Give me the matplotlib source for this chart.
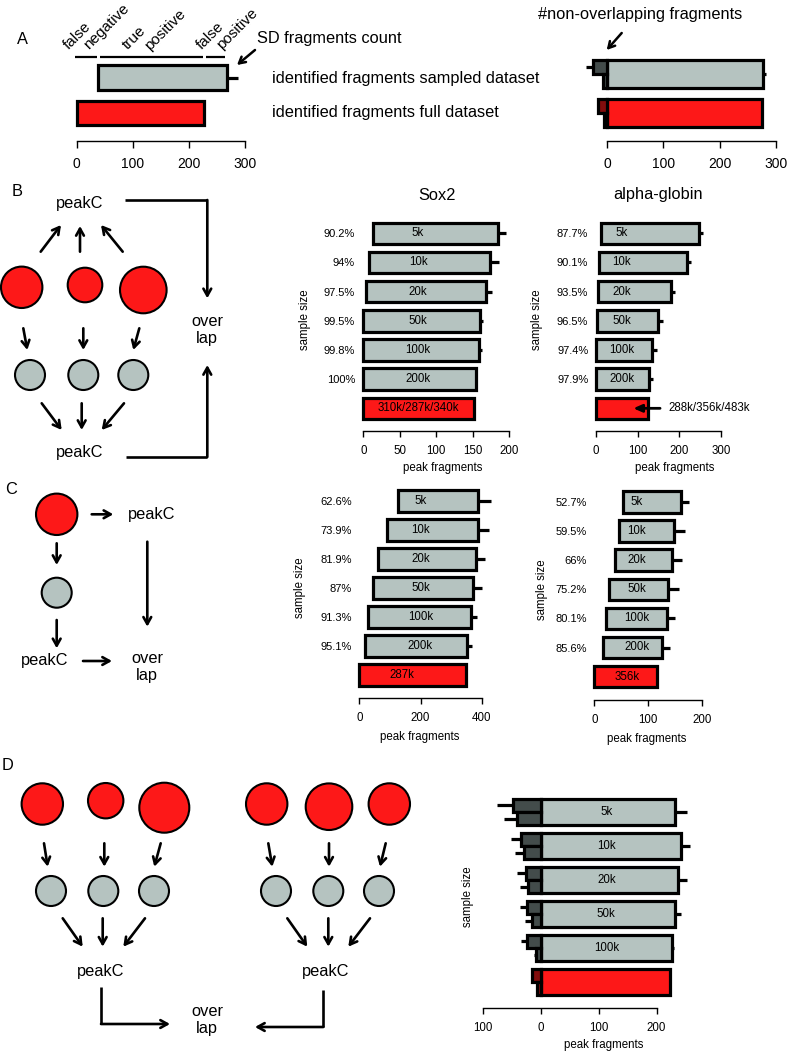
import matplotlib
matplotlib.use('Agg')
import matplotlib.pyplot as plt
import matplotlib.patches as mpatches

plt.rcParams['font.family'] = ['Liberation Sans', 'DejaVu Sans']

# ---------------- data ----------------
A_rows = ['identified fragments sampled dataset', 'identified fragments full dataset']
A_left_start = [38.5, 0]
A_left_end = [267, 227.5]
A_left_sd = [288, None]
A_segments = [0, 38.5, 227.5, 267]
A_segment_labels = [('false', 'negative'), ('true', 'positive'), ('false', 'positive')]

A_right_overlap = [277, 275]
A_right_overlap_sd = [282, None]
A_right_upper = [25, 16]
A_right_upper_sd = [38, None]
A_right_lower = [7, 6]
A_right_lower_sd = [9, None]

sizes = ['5k', '10k', '20k', '50k', '100k', '200k']

B_sox2_pct = ['90.2%', '94%', '97.5%', '99.5%', '99.8%', '100%']
B_sox2_start = [13.7, 8.2, 3.2, 0, 0, 0]
B_sox2_end = [185, 174, 168, 160.5, 159, 155]
B_sox2_sd = [196, 186, 176, 164, 162, 156]
B_sox2_full = 152
B_sox2_full_label = '310k/287k/340k'

B_alpha_pct = ['87.7%', '90.1%', '93.5%', '96.5%', '97.4%', '97.9%']
B_alpha_start = [12.7, 8.8, 4.8, 2.4, 0.7, 0]
B_alpha_end = [247, 218, 180, 150, 135.5, 128]
B_alpha_sd = [256, 227, 190, 162, 146, 136]
B_alpha_full = 126
B_alpha_full_label = '288k/356k/483k'

C_sox2_pct = ['62.6%', '73.9%', '81.9%', '87%', '91.3%', '95.1%']
C_sox2_start = [127.6, 89.5, 62, 46, 29, 18.5]
C_sox2_end = [387, 387, 381, 373, 364.6, 353]
C_sox2_sd = [432, 424, 411, 400, 386, 367]
C_sox2_full = 349
C_sox2_full_label = '287k'

C_alpha_pct = ['52.7%', '59.5%', '66%', '75.2%', '80.1%', '85.6%']
C_alpha_start = [52.5, 45.8, 38.4, 28, 21.6, 16.8]
C_alpha_end = [160, 148, 143, 137, 134, 125]
C_alpha_sd = [176, 168, 162, 157, 150, 140]
C_alpha_full = 116
C_alpha_full_label = '356k'

D_sizes = ['5k', '10k', '20k', '50k', '100k']
D_overlap = [232, 243, 237, 232, 226]
D_overlap_sd = [252, 258, 252, 242, 230]
D_upper = [49, 34.6, 26.5, 25, 23.6]
D_upper_sd = [75.6, 52, 41, 36, 35]
D_lower = [41, 29, 22, 16, 8.6]
D_lower_sd = [64, 45, 36, 28, 12]
D_full_overlap = 223
D_full_upper = 16
D_full_lower = 7.5

# ---------------- style ----------------
RED = '#fd1818'
GREY = '#b5c3c0'
DARK = '#434c4b'
DARKRED = '#820d0d'
EDGE_LW = 2.3
FS_BIG = 11.8
FS_ROT = 11.0
FS_DIAG = 11.8
FS_SMALL = 8.3
FS_PCT = 8.0
FS_TICK_A = 10

W, H = 787, 1051
fig = plt.figure(figsize=(W / 100, H / 100), dpi=100)

# overlay axes in pixel coordinates for the schematic diagrams and annotations
ov = fig.add_axes([0, 0, 1, 1])
ov.set_xlim(0, W)
ov.set_ylim(H, 0)
ov.axis('off')
ov.set_facecolor('none')


def make_axes(zero_px, scale, xlim, row0_py, spacing, axis_py, ticks, top_rows=0.7,
              tick_fs=FS_SMALL, tick_len=6, label_pad_px=8.0, tick_labels=None):
    x0 = zero_px + xlim[0] * scale
    x1 = zero_px + xlim[1] * scale
    y_top = row0_py - top_rows * spacing
    ax = fig.add_axes([x0 / W, 1 - axis_py / H, (x1 - x0) / W, (axis_py - y_top) / H])
    ax.set_facecolor('none')
    ax.set_xlim(*xlim)
    ax.set_ylim((axis_py - row0_py) / spacing, -top_rows)
    for s in ['top', 'right', 'left']:
        ax.spines[s].set_visible(False)
    ax.spines['bottom'].set_linewidth(1.0)
    ax.spines['bottom'].set_bounds(ticks[0], ticks[-1])
    ax.set_xticks(ticks)
    if tick_labels is None:
        tick_labels = [str(t) for t in ticks]
    ax.set_xticklabels(tick_labels)
    ax.tick_params(axis='x', direction='out', length=tick_len * 0.72, width=1.0,
                   labelsize=tick_fs, pad=label_pad_px * 0.72)
    ax.tick_params(axis='y', length=0)
    ax.set_yticks([])
    ax._px = (x0, x1, y_top, axis_py)
    return ax


def frac(ax, px, py):
    x0, x1, y0, y1 = ax._px
    return (px - x0) / (x1 - x0), (y1 - py) / (y1 - y0)


def sd_line(ax, x0, x1, y):
    ax.plot([x0, x1], [y, y], color='black', lw=EDGE_LW, solid_capstyle='butt', zorder=1)


def xlabel(ax, text, px, py):
    ax.set_xlabel(text, fontsize=FS_SMALL)
    fx, fy = frac(ax, px, py)
    ax.xaxis.set_label_coords(fx, fy)
    ax.xaxis.label.set_va('center')


def ylabel(ax, text, px, py):
    ax.set_ylabel(text, fontsize=FS_SMALL)
    fx, fy = frac(ax, px, py)
    ax.yaxis.set_label_coords(fx, fy)
    ax.yaxis.label.set_ha('center')
    ax.yaxis.label.set_va('center')


def sample_panel(ax, starts, ends, sds, full, pct, label_x, full_label, pct_right,
                 height=0.74):
    n = len(starts)
    ys = list(range(n))
    ax.barh(ys, [e - s for s, e in zip(starts, ends)], left=starts, height=height,
            color=GREY, edgecolor='black', linewidth=EDGE_LW, zorder=2)
    for y, e, sd in zip(ys, ends, sds):
        sd_line(ax, e, sd, y)
    ax.barh([n], [full], left=[0], height=height, color=RED, edgecolor='black',
            linewidth=EDGE_LW, zorder=2)
    for y, s in zip(ys, sizes):
        ax.text(label_x, y, s, ha='center', va='center', fontsize=FS_SMALL, zorder=3)
    if full_label is not None:
        ax.text(label_x, n, full_label, ha='center', va='center', fontsize=FS_SMALL, zorder=3)
    ax.set_yticks(ys)
    ax.set_yticklabels(pct, fontsize=FS_PCT)
    ax.tick_params(axis='y', length=0, pad=(ax._px[0] - pct_right) * 0.72)


def split_panel(ax, overlap, overlap_sd, upper, upper_sd, lower, lower_sd,
                main_color, dark_color, height):
    ys = list(range(len(overlap)))
    ax.barh(ys, overlap, left=0, height=height, color=main_color, edgecolor='black',
            linewidth=EDGE_LW, zorder=2)
    ax.barh([y - height / 4 for y in ys], [-u for u in upper], left=0, height=height / 2,
            color=dark_color, edgecolor='black', linewidth=EDGE_LW, zorder=2)
    ax.barh([y + height / 4 for y in ys], [-l for l in lower], left=0, height=height / 2,
            color=dark_color, edgecolor='black', linewidth=EDGE_LW, zorder=2)
    for y, o, osd, u, usd, l, lsd in zip(ys, overlap, overlap_sd, upper, upper_sd, lower, lower_sd):
        if osd is not None:
            sd_line(ax, o, osd, y)
        if usd is not None:
            sd_line(ax, -u, -usd, y - height / 4)
        if lsd is not None:
            sd_line(ax, -l, -lsd, y + height / 4)


# ---------------- Panel A left ----------------
axA = make_axes(76.7, 0.5613, (-8, 310), 77.5, 35.5, 140.5, [0, 100, 200, 300],
                top_rows=1.0, tick_fs=FS_TICK_A, tick_len=7, label_pad_px=9.5)
hA = 0.68
axA.barh([0], [A_left_end[0] - A_left_start[0]], left=[A_left_start[0]], height=hA,
         color=GREY, edgecolor='black', linewidth=EDGE_LW, zorder=2)
sd_line(axA, A_left_end[0], A_left_sd[0], 0)
axA.barh([1], [A_left_end[1] - A_left_start[1]], left=[A_left_start[1]], height=hA,
         color=RED, edgecolor='black', linewidth=EDGE_LW, zorder=2)
seg_y = -0.59
for i in range(3):
    a, b = A_segments[i], A_segments[i + 1]
    axA.plot([a + (2.5 if i else -3), b - 3], [seg_y, seg_y], color='black', lw=1.6,
             solid_capstyle='butt', clip_on=False)

# rotated labels above the dashes (figure pixel positions of baseline starts)
rot_pos = [(68.5, 49.5), (89, 50), (128, 49.5), (150, 51), (202, 49.5), (222, 50)]
words = [w for pair in A_segment_labels for w in pair]
for txt, (px, py) in zip(words, rot_pos):
    ov.text(px, py, txt, rotation=45, rotation_mode='anchor', ha='left', va='baseline',
            fontsize=FS_ROT)
ov.text(256.7, 38, 'SD fragments count', ha='left', va='center', fontsize=FS_BIG)
ov.annotate('', xy=(237, 65), xytext=(255, 50),
            arrowprops=dict(arrowstyle='->,head_length=0.45,head_width=0.25', lw=1.8,
                            color='black', shrinkA=0, shrinkB=0))
ov.text(271.7, 78, A_rows[0], ha='left', va='center', fontsize=FS_BIG)
ov.text(271.7, 113, A_rows[1], ha='left', va='center', fontsize=FS_BIG)
ov.text(17, 40, 'A', ha='left', va='center', fontsize=FS_BIG)

# ---------------- Panel A right ----------------
axAR = make_axes(607.3, 0.5613, (-45, 300), 73.8, 39, 140.5, [0, 100, 200, 300],
                 top_rows=0.6, tick_fs=FS_TICK_A, tick_len=7, label_pad_px=9.5)
hAR = 0.72
split_panel(axAR, [A_right_overlap[0]], [A_right_overlap_sd[0]], [A_right_upper[0]],
            [A_right_upper_sd[0]], [A_right_lower[0]], [A_right_lower_sd[0]], GREY, DARK, hAR)
axAR.barh([1], [A_right_overlap[1]], left=0, height=hAR, color=RED, edgecolor='black',
          linewidth=EDGE_LW, zorder=2)
axAR.barh([1 - hAR / 4], [-A_right_upper[1]], left=0, height=hAR / 2, color=DARKRED,
          edgecolor='black', linewidth=EDGE_LW, zorder=2)
axAR.barh([1 + hAR / 4], [-A_right_lower[1]], left=0, height=hAR / 2, color=DARKRED,
          edgecolor='black', linewidth=EDGE_LW, zorder=2)
ov.text(538, 15, '#non-overlapping fragments', ha='left', va='center', fontsize=FS_BIG)
ov.annotate('', xy=(606.7, 50), xytext=(621.7, 33),
            arrowprops=dict(arrowstyle='->,head_length=0.45,head_width=0.25', lw=1.8,
                            color='black', shrinkA=0, shrinkB=0))

# ---------------- Panel B ----------------
axBS = make_axes(363.3, 0.73, (-3, 205), 233.3, 29.17, 430.7, [0, 50, 100, 150, 200])
sample_panel(axBS, B_sox2_start, B_sox2_end, B_sox2_sd, B_sox2_full, B_sox2_pct, 75,
             B_sox2_full_label, 355)
axBS.set_title('Sox2', fontsize=FS_BIG, y=frac(axBS, 0, 204)[1], va='center')
xlabel(axBS, 'peak fragments', 443, 467.5)
ylabel(axBS, 'sample size', 305, 320)

axBA = make_axes(595.7, 0.418, (-3, 300), 233.3, 29.17, 430.7, [0, 100, 200, 300])
sample_panel(axBA, B_alpha_start, B_alpha_end, B_alpha_sd, B_alpha_full, B_alpha_pct, 62,
             None, 588.3)
axBA.annotate('', xy=(90, 6), xytext=(154, 6),
              arrowprops=dict(arrowstyle='-|>,head_length=0.5,head_width=0.22', lw=2.0,
                              color='black', shrinkA=0, shrinkB=0), annotation_clip=False)
axBA.text(174, 6, B_alpha_full_label, ha='left', va='center', fontsize=FS_SMALL, clip_on=False)
axBA.set_title('alpha-globin', fontsize=FS_BIG, y=frac(axBA, 0, 203)[1], va='center')
xlabel(axBA, 'peak fragments', 675, 467.5)
ylabel(axBA, 'sample size', 536.7, 320)

# ---------------- Panel C ----------------
axCS = make_axes(359.3, 0.306, (-8, 440), 501, 29, 698.3, [0, 200, 400])
sample_panel(axCS, C_sox2_start, C_sox2_end, C_sox2_sd, C_sox2_full, C_sox2_pct, 200,
             None, 351.7)
axCS.text(140, 6, C_sox2_full_label, ha='center', va='center', fontsize=FS_SMALL, zorder=3)
xlabel(axCS, 'peak fragments', 420, 737)
ylabel(axCS, 'sample size', 300, 588)

axCA = make_axes(594.3, 0.54, (-5, 200), 502, 29.1, 700, [0, 100, 200])
sample_panel(axCA, C_alpha_start, C_alpha_end, C_alpha_sd, C_alpha_full, C_alpha_pct, 79,
             None, 586.7)
axCA.text(60, 6, C_alpha_full_label, ha='center', va='center', fontsize=FS_SMALL, zorder=3)
xlabel(axCA, 'peak fragments', 646.7, 739)
ylabel(axCA, 'sample size', 541.7, 590)

# ---------------- Panel D ----------------
axD = make_axes(541, 0.578, (-100, 262), 812, 34, 1008.3, [-100, 0, 100, 200],
                tick_labels=['100', '0', '100', '200'])
hD = 0.78
split_panel(axD, D_overlap, D_overlap_sd, D_upper, D_upper_sd, D_lower, D_lower_sd,
            GREY, DARK, hD)
nD = len(D_overlap)
axD.barh([nD], [D_full_overlap], left=0, height=hD, color=RED, edgecolor='black',
         linewidth=EDGE_LW, zorder=2)
axD.barh([nD - hD / 4], [-D_full_upper], left=0, height=hD / 2, color=DARKRED,
         edgecolor='black', linewidth=EDGE_LW, zorder=2)
axD.barh([nD + hD / 4], [-D_full_lower], left=0, height=hD / 2, color=DARKRED,
         edgecolor='black', linewidth=EDGE_LW, zorder=2)
for y, s in enumerate(D_sizes):
    axD.text(113, y, s, ha='center', va='center', fontsize=FS_SMALL, zorder=3)
xlabel(axD, 'peak fragments', 603.3, 1045)
ylabel(axD, 'sample size', 468.3, 896.7)

# ---------------- schematic diagrams ----------------
ARW = dict(arrowstyle='->,head_length=0.5,head_width=0.28', lw=1.9, color='black',
           shrinkA=0, shrinkB=0)


def arrow(x0, y0, x1, y1):
    ov.annotate('', xy=(x1, y1), xytext=(x0, y0), arrowprops=ARW)


def line(xs, ys):
    ov.plot(xs, ys, color='black', lw=1.9, solid_capstyle='butt')


def circle(x, y, r, color):
    ov.add_patch(mpatches.Circle((x, y), r, facecolor=color, edgecolor='black', lw=1.5))


def text(x, y, s, ha='center'):
    ov.text(x, y, s, ha=ha, va='center', fontsize=FS_DIAG, linespacing=1.15)


# B
ov.text(12, 192, 'B', ha='left', va='center', fontsize=FS_BIG)
text(80, 203.3, 'peakC')
line([125, 207.3], [200, 200])
arrow(207.3, 200, 207.3, 298.3)
for (a, b, c, d) in [(40.7, 251.7, 61, 225), (80, 251.7, 80, 226), (122.7, 251.7, 101, 225)]:
    arrow(a, b, c, d)
for (x, y, r) in [(21.7, 287.3, 20.7), (85, 285, 17.3), (143.3, 290, 23.3)]:
    circle(x, y, r, RED)
text(207.3, 330, 'over\nlap')
for (a, b, c, d) in [(23.3, 328.3, 27.3, 350), (83.3, 328.3, 83.3, 350), (139.3, 328.3, 133.3, 350)]:
    arrow(a, b, c, d)
for x in [30, 83.3, 133.3]:
    circle(x, 375, 15, GREY)
for (a, b, c, d) in [(41.7, 403.3, 61.7, 430), (81.7, 403.3, 81.7, 430), (124, 403.3, 101.7, 430)]:
    arrow(a, b, c, d)
text(80, 452, 'peakC')
line([126, 207.3], [457, 457])
arrow(207.3, 457, 207.3, 365)

# C
ov.text(5, 489, 'C', ha='left', va='center', fontsize=FS_BIG)
circle(56.7, 514.3, 20.7, RED)
arrow(91.7, 514.3, 113.3, 514.3)
text(128, 514, 'peakC', ha='left')
arrow(56.7, 543.3, 56.7, 565)
circle(56.7, 592.7, 15, GREY)
arrow(56.7, 620, 56.7, 648.3)
arrow(147.3, 541.7, 147.3, 626.7)
text(45, 661, 'peakC')
arrow(83, 661, 112, 661)
text(147, 667, 'over\nlap')

# D
ov.text(2, 765, 'D', ha='left', va='center', fontsize=FS_BIG)
for (x, y, r) in [(42.3, 804, 20.7), (105.7, 800.7, 17.7), (164.3, 807.7, 25),
                  (266.7, 804, 20.7), (329, 806.7, 23.3), (389.3, 804, 20.7)]:
    circle(x, y, r, RED)
for (a, c) in [(44, 47.7), (104.3, 104.3), (160.7, 154.3), (268.3, 272.3), (329, 329), (385.7, 380)]:
    arrow(a, 843.3, c, 866.7)
for x in [51, 103.3, 154, 276, 328.3, 379]:
    circle(x, 891, 15, GREY)
for (a, c) in [(62.7, 82.7), (102.7, 102.7), (145, 123.3), (287.3, 307.3), (328.3, 328.3), (370, 348.3)]:
    arrow(a, 918.3, c, 946.7)
text(101, 971.7, 'peakC')
text(326, 971.7, 'peakC')
line([101, 101], [986.7, 1024])
arrow(101, 1024, 170, 1024)
line([323.3, 323.3], [990, 1027])
arrow(323.3, 1027, 255, 1027)
text(207.3, 1020, 'over\nlap')

fig.savefig('out.png', dpi=100)
